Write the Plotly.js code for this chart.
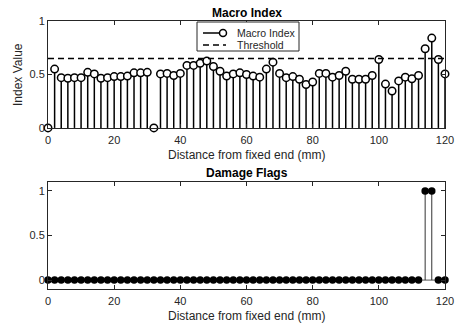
<!DOCTYPE html>
<html>
<head>
<meta charset="utf-8">
<script src="https://cdn.plot.ly/plotly-3.0.1.min.js"></script>
<style>html,body{margin:0;padding:0;background:#fff;}#chart{width:458px;height:327px;}</style>
</head>
<body>
<div id="chart"></div>
<script>
// ---- data ----
const distance = [0,2,4,6,8,10,12,14,16,18,20,22,24,26,28,30,32,34,36,38,40,42,44,46,48,50,52,54,56,58,60,62,64,66,68,70,72,74,76,78,80,82,84,86,88,90,92,94,96,98,100,102,104,106,108,110,112,114,116,118,120];
const macroIndex = [0,0.55,0.47,0.465,0.47,0.47,0.52,0.505,0.465,0.47,0.48,0.48,0.485,0.515,0.515,0.52,
  0,0.505,0.51,0.49,0.51,0.585,0.585,0.605,0.625,0.575,0.53,0.485,0.505,0.515,0.50,0.485,
  0.475,0.55,0.615,0.51,0.47,0.48,0.455,0.405,0.43,0.51,0.51,0.475,0.49,0.53,0.455,0.455,
  0.455,0.49,0.64,0.41,0.345,0.44,0.475,0.46,0.49,0.74,0.84,0.64,0.505];
const damageFlags = [0,0,0,0,0,0,0,0,0,0,0,0,0,0,0,0,0,0,0,0,0,0,0,0,0,0,0,0,0,0,0,0,0,0,0,0,0,0,0,0,0,0,0,0,0,0,0,0,0,0,0,0,0,0,0,0,0,1,1,0,0];
const threshold = 0.65;
const xTicks = [0,20,40,60,80,100,120];
const yTicks = [0,0.5,1];
const yTickText = ['0','0.5','1'];

function stems(xs, ys){
  const sx=[], sy=[];
  xs.forEach((x,i)=>{ sx.push(x,x,null); sy.push(0,ys[i],null); });
  return {sx, sy};
}
const s1 = stems(distance, macroIndex);
const s2 = stems(distance, damageFlags);
const ink = '#262626';
const font = 'Liberation Sans, Arial, Helvetica, sans-serif';

const traces = [
  {x:s1.sx, y:s1.sy, mode:'lines', line:{color:'#000', width:1.5}, xaxis:'x', yaxis:'y', showlegend:false, hoverinfo:'skip', cliponaxis:false},
  {x:distance, y:macroIndex, name:'Macro Index', mode:'markers', marker:{symbol:'circle', size:7.5, color:'#fff', line:{color:'#000', width:1.5}}, xaxis:'x', yaxis:'y', showlegend:false, cliponaxis:false},
  {x:[distance[0], distance[distance.length-1]], y:[threshold, threshold], name:'Threshold', mode:'lines', line:{color:'#000', width:1.5, dash:'6px,4px'}, xaxis:'x', yaxis:'y', showlegend:false},
  {x:[distance[0], distance[distance.length-1]], y:[0,0], mode:'lines', line:{color:'#555', width:1}, xaxis:'x2', yaxis:'y2', showlegend:false, hoverinfo:'skip'},
  {x:s2.sx, y:s2.sy, mode:'lines', line:{color:'#333', width:1}, xaxis:'x2', yaxis:'y2', showlegend:false, hoverinfo:'skip'},
  {x:distance, y:damageFlags, name:'Damage Flags', mode:'markers', marker:{symbol:'circle', size:7.5, color:'#000'}, xaxis:'x2', yaxis:'y2', showlegend:false, cliponaxis:false}
];

const axCommon = {showgrid:false, zeroline:false, showline:true, linecolor:ink, linewidth:1, mirror:'ticks', ticks:'inside', ticklen:4, tickcolor:ink, tickfont:{family:font, size:11, color:ink}};
const P = (px)=> (289-px)/268;   // pixel row -> paper y
const Q = (px)=> (px-48)/397;    // pixel column -> paper x
const lab = {family:font, size:12, color:ink};

const layout = {
  width:458, height:327,
  margin:{l:48, r:13, t:21, b:38},
  paper_bgcolor:'#fff', plot_bgcolor:'#fff',
  font:{family:font, color:ink},
  xaxis: Object.assign({}, axCommon, {domain:[0,1], range:[0,120], anchor:'y', tickvals:xTicks, ticklabelstandoff:2}),
  yaxis: Object.assign({}, axCommon, {domain:[0.601,1], range:[0,1], anchor:'x', tickvals:yTicks, ticktext:yTickText}),
  xaxis2: Object.assign({}, axCommon, {domain:[0,1], range:[0,120], anchor:'y2', tickvals:xTicks, ticklabelstandoff:2}),
  yaxis2: Object.assign({}, axCommon, {domain:[0,0.399], range:[-0.1,1.1], anchor:'x2', tickvals:yTicks, ticktext:yTickText}),
  annotations:[
    {text:'<b>Macro Index</b>', xref:'paper', yref:'paper', x:0.5, y:P(12.5), xanchor:'center', yanchor:'middle', showarrow:false, font:{family:font, size:12, color:'#000'}},
    {text:'<b>Damage Flags</b>', xref:'paper', yref:'paper', x:0.5, y:P(172.5), xanchor:'center', yanchor:'middle', showarrow:false, font:{family:font, size:12, color:'#000'}},
    {text:'Distance from fixed end (mm)', xref:'paper', yref:'paper', x:0.5, y:P(155), xanchor:'center', yanchor:'middle', showarrow:false, font:lab},
    {text:'Distance from fixed end (mm)', xref:'paper', yref:'paper', x:0.5, y:P(316), xanchor:'center', yanchor:'middle', showarrow:false, font:lab},
    {text:'Index Value', xref:'paper', yref:'paper', x:Q(18), y:P(74), xanchor:'center', yanchor:'middle', textangle:-90, showarrow:false, font:lab},
    {text:'Macro Index', xref:'paper', yref:'paper', x:Q(235), y:P(33), xanchor:'left', yanchor:'middle', showarrow:false, font:{family:font, size:10.5, color:ink}},
    {text:'Threshold', xref:'paper', yref:'paper', x:Q(235), y:P(45), xanchor:'left', yanchor:'middle', showarrow:false, font:{family:font, size:10.5, color:ink}}
  ],
  shapes:[
    {type:'rect', xref:'paper', yref:'paper', x0:Q(197), x1:Q(299), y0:P(51), y1:P(22), line:{color:ink, width:1}, fillcolor:'#fff', layer:'above'},
    {type:'line', xref:'paper', yref:'paper', x0:Q(203), x1:Q(223), y0:P(33), y1:P(33), line:{color:'#000', width:1.5}, layer:'above'},
    {type:'circle', xref:'paper', yref:'paper', xsizemode:'pixel', ysizemode:'pixel', xanchor:Q(223), yanchor:P(33), x0:-3.5, x1:3.5, y0:-3.5, y1:3.5, line:{color:'#000', width:1.5}, fillcolor:'#fff', layer:'above'},
    {type:'line', xref:'paper', yref:'paper', x0:Q(203), x1:Q(226), y0:P(45), y1:P(45), line:{color:'#000', width:1.5, dash:'6px,4px'}, layer:'above'}
  ]
};

Plotly.newPlot('chart', traces, layout, {staticPlot:true, displayModeBar:false});
</script>
</body>
</html>
